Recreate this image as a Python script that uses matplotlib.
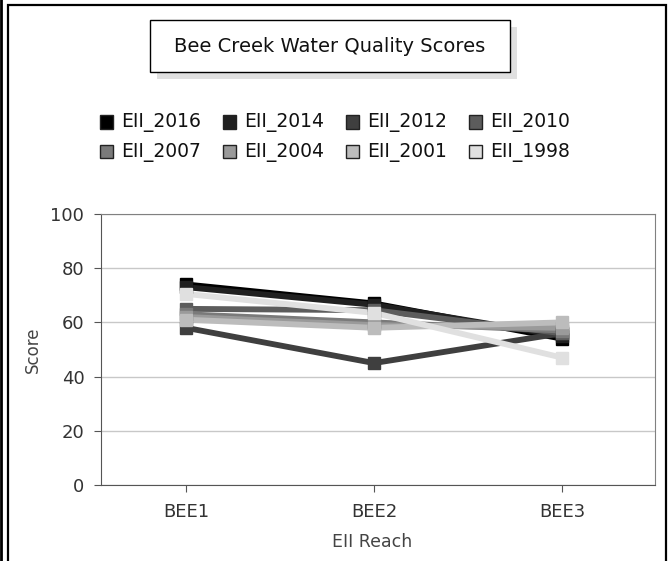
import matplotlib.pyplot as plt
from matplotlib.patches import Rectangle

# chart data
reaches = ['BEE1', 'BEE2', 'BEE3']
series_names = ['EII_2016', 'EII_2014', 'EII_2012', 'EII_2010',
                'EII_2007', 'EII_2004', 'EII_2001', 'EII_1998']
eii_2016 = [74, 67, 54]
eii_2014 = [73, 66.5, 55]
eii_2012 = [58, 45, 56]
eii_2010 = [65, 64.5, 56]
eii_2007 = [63, 60, 57]
eii_2004 = [62, 59, 58]
eii_2001 = [61, 58, 60]
eii_1998 = [70.5, 63.5, 47]
yticks = [0, 20, 40, 60, 80, 100]

series_vals = [eii_2016, eii_2014, eii_2012, eii_2010,
               eii_2007, eii_2004, eii_2001, eii_1998]
colors = ['#000000', '#202020', '#3f3f3f', '#5c5c5c',
          '#7a7a7a', '#9a9a9a', '#bcbcbc', '#e0e0e0']

W, H = 668, 561
fig = plt.figure(figsize=(W / 100, H / 100), dpi=100)


def fx(px):
    return px / W


def fy(py):
    return 1 - py / H


# outer frame of the screenshot
fig.add_artist(Rectangle((fx(8), fy(575)), fx(658), 570 / H, transform=fig.transFigure,
                         fill=False, edgecolor='black', lw=1.6))
fig.add_artist(plt.Line2D([fx(1), fx(1)], [0, 1], transform=fig.transFigure,
                          color='black', lw=2))

# title box with shadow
fig.add_artist(Rectangle((fx(157), fy(79)), fx(360), 52 / H, transform=fig.transFigure,
                         facecolor='#e0e0e0', edgecolor='none'))
fig.add_artist(Rectangle((fx(150), fy(72)), fx(360), 52 / H, transform=fig.transFigure,
                         facecolor='white', edgecolor='black', lw=1))
fig.text(fx(330), fy(46), 'Bee Creek Water Quality Scores', ha='center', va='center',
         fontsize=14, color='#111111')

ax = fig.add_axes([fx(101), fy(485), fx(554), 271 / H])
x = range(len(reaches))
# lines first, then all the square markers on top; later series drawn over earlier
for i, (name, vals, c) in enumerate(zip(series_names, series_vals, colors)):
    ax.plot(x, vals, color=c, lw=4.2, solid_capstyle='butt', zorder=2 + i * 0.1, label=name)
for i, (vals, c) in enumerate(zip(series_vals, colors)):
    ax.plot(x, vals, ls='none', marker='s', ms=8, color=c, zorder=4 + i * 0.1)

ax.set_xlim(-0.452, 2.495)
ax.set_ylim(0, 100)
ax.set_xticks(list(x))
ax.set_xticklabels(reaches)
ax.set_yticks(yticks)
ax.yaxis.grid(True, color='#c8c8c8', lw=1)
ax.set_axisbelow(True)
for s in ax.spines.values():
    s.set_color('#808080')
ax.spines['left'].set_color('#555555')
ax.spines['bottom'].set_color('#555555')
ax.tick_params(axis='both', length=5, color='#555555', labelsize=13, labelcolor='#333333')
ax.tick_params(axis='y', pad=7)
ax.tick_params(axis='x', pad=8)
ax.set_ylabel('Score', fontsize=12, color='#444444')
ax.yaxis.set_label_coords((42 - 101) / 554, 0.5)
ax.set_xlabel('EII Reach', fontsize=12.5, color='#444444')
ax.xaxis.set_label_coords(0.49, (485 - 533) / 271)

# legend, 4 per row, drawn item by item
for k, (name, c) in enumerate(zip(series_names, colors)):
    col, row = k % 4, k // 4
    px = 100 + 123 * col
    py = 122 + 30 * row
    fig.add_artist(Rectangle((fx(px), fy(py + 6.5)), fx(13), 13 / H,
                             transform=fig.transFigure, facecolor=c,
                             edgecolor='#222222', lw=1))
    fig.text(fx(px + 21), fy(py), name, ha='left', va='center', fontsize=13.5,
             color='#111111')

fig.savefig('out.png', dpi=100)
